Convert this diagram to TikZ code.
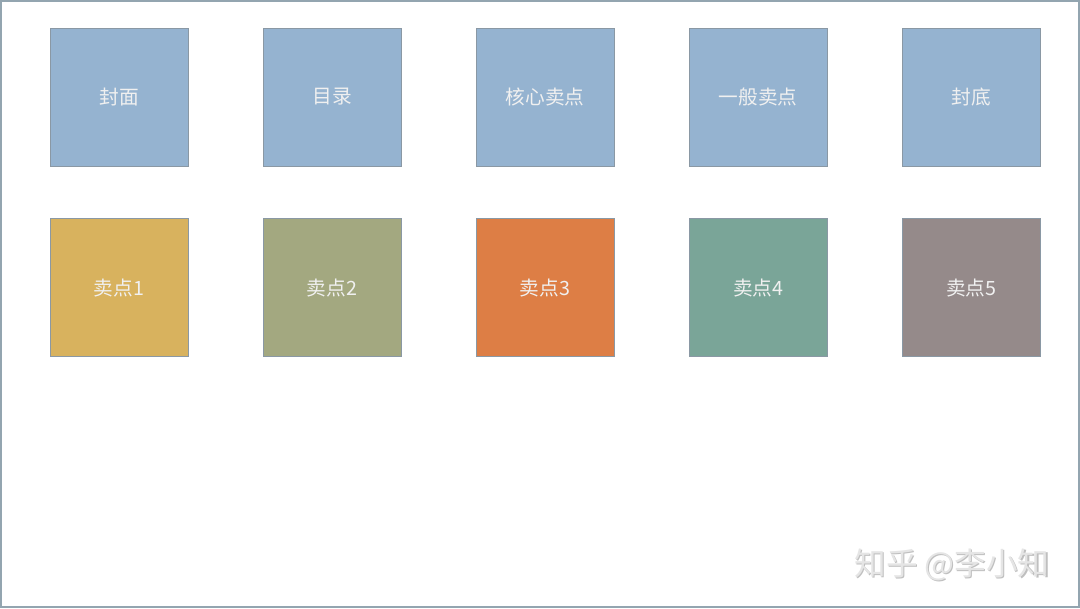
\documentclass[tikz,border=0pt]{standalone}
\usepackage{fontspec}
\setmainfont{Noto Sans CJK SC}
\usepackage{tikz}
\usetikzlibrary{positioning}
\definecolor{pageblue}{HTML}{95B3D0}
\definecolor{ptyellow}{HTML}{D8B25E}
\definecolor{ptolive}{HTML}{A3A880}
\definecolor{ptorange}{HTML}{DD7E45}
\definecolor{ptteal}{HTML}{7AA598}
\definecolor{ptgray}{HTML}{958A8A}
\definecolor{edgegray}{HTML}{8A98A4}
\definecolor{framecol}{HTML}{93A5B0}

\begin{document}
\begin{tikzpicture}[
page/.style={rectangle, draw=edgegray, line width=0.6pt, minimum size=3.45cm, inner sep=0pt, text=white!94!black, font=\fontsize{14}{16}\selectfont},
wmark/.style={font=\fontsize{22.5}{26}\selectfont, text=black!10}
]
\useasboundingbox (0,0) rectangle (27,15.2);
\draw[framecol, line width=1.2pt] (0.02,0.02) rectangle (26.98,15.18);

%Page sequence
\node[page, fill=pageblue] (cover) at (2.975,12.775) {封面};
\node[page, fill=pageblue] (toc) [right=1.855cm of cover] {目录};
\node[page, fill=pageblue] (core) [right=1.855cm of toc] {核心卖点};
\node[page, fill=pageblue] (general) [right=1.855cm of core] {一般卖点};
\node[page, fill=pageblue] (back) [right=1.855cm of general] {封底};

%Selling points
\node[page, fill=ptyellow] (sp1) [below=1.3cm of cover] {卖点1};
\node[page, fill=ptolive] (sp2) [below=1.3cm of toc] {卖点2};
\node[page, fill=ptorange] (sp3) [below=1.3cm of core] {卖点3};
\node[page, fill=ptteal] (sp4) [below=1.3cm of general] {卖点4};
\node[page, fill=ptgray] (sp5) [below=1.3cm of back] {卖点5};

%Watermark
\node[wmark, text=black!25] (wmshadow) at (23.83,1.05) {知乎 @李小知};
\node[wmark] (wm) at (23.8,1.08) {知乎 @李小知};
\end{tikzpicture}
\end{document}
